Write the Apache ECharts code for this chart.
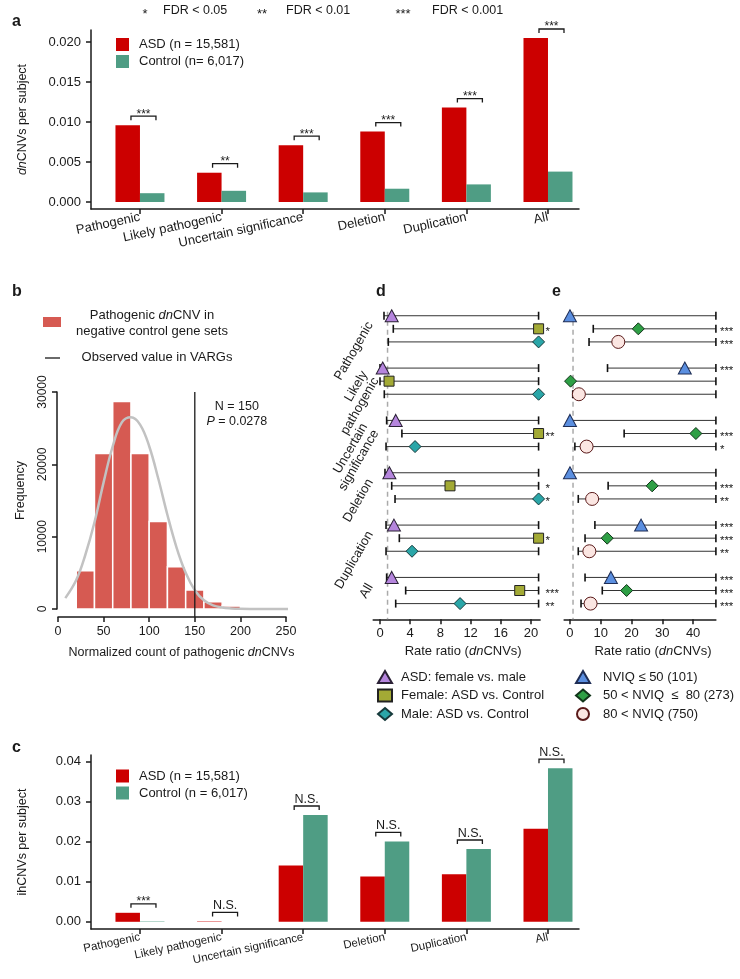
<!DOCTYPE html>
<html><head><meta charset="utf-8">
<script src="https://cdn.jsdelivr.net/npm/echarts@6/dist/echarts.min.js"></script>
<style>html,body{margin:0;padding:0;background:#fff}#c{width:740px;height:979px}</style>
</head><body><div id="c"></div>
<script>
// ---------- data ----------
const categories = ['Pathogenic', 'Likely pathogenic', 'Uncertain significance', 'Deletion', 'Duplication', 'All'];
const catIndex = [0, 1, 2, 3, 4, 5];
// panel a: dnCNVs per subject
const aASD = [0.0096, 0.00366, 0.0071, 0.0088, 0.0118, 0.0205];
const aControl = [0.0011, 0.0014, 0.0012, 0.00166, 0.0022, 0.0038];
const aSig = ['***', '**', '***', '***', '***', '***'];
const aTicks = [0, 0.005, 0.010, 0.015, 0.020];
// panel c: ihCNVs per subject
const cASD = [0.00225, 0.0001, 0.0141, 0.01135, 0.0119, 0.02325];
const cControl = [0.0001, 0, 0.0267, 0.0201, 0.0182, 0.0384];
const cSig = ['***', 'N.S.', 'N.S.', 'N.S.', 'N.S.', 'N.S.'];
const cTicks = [0, 0.01, 0.02, 0.03, 0.04];
// panel b: histogram
const histBinStart = [20, 40, 60, 80, 100, 120, 140, 160, 180];
const histBinWidth = 20;
const histFreq = [5300, 21500, 28700, 21500, 12100, 5850, 2630, 1010, 400];
const curveX = [8, 20, 30, 40, 50, 60, 70, 80, 90, 100, 110, 120, 130, 140, 150, 160, 170, 180, 190, 200, 220, 250, 284];
const curveY = [1500, 4000, 7500, 12000, 17500, 22500, 25800, 26500, 25500, 22500, 18000, 13000, 8500, 5000, 2600, 1200, 500, 200, 80, 30, 0, 0, 0];
const observedN = 150;
const observedP = '0.0278';
const bTicksX = [0, 50, 100, 150, 200, 250];
const bTicksY = [0, 10000, 20000, 30000];
// panels d, e: rate ratios
const groupLabels = ['Pathogenic', 'Likely\npathogenic', 'Uncertain\nsignificance', 'Deletion', 'Duplication', 'All'];
const nullRatio = 1;
const dTicks = [0, 4, 8, 12, 16, 20];
const eTicks = [0, 10, 20, 30, 40];
const dTriEst = [1.55, 0.36, 2.08, 1.24, 1.85, 1.55];
const dTriLo  = [0.53, 0.0, 0.88, 0.66, 0.8, 0.88];
const dTriHi  = [21, 21, 21, 21, 21, 21];
const dTriSig = ['', '', '', '', '', ''];
const dSqEst  = [21, 1.2, 21, 9.27, 21, 18.5];
const dSqLo   = [1.76, 0.0, 2.9, 1.55, 2.56, 3.4];
const dSqHi   = [21, 21, 21, 21, 21, 21];
const dSqSig  = ['*', '', '**', '*', '*', '***'];
const dDiaEst = [21, 21, 4.64, 21, 4.24, 10.6];
const dDiaLo  = [1.1, 0.57, 0.8, 1.99, 0.8, 2.08];
const dDiaHi  = [21, 21, 21, 21, 21, 21];
const dDiaSig = ['', '', '', '*', '', '**'];
const eTriEst = [0, 37.3, 0, 0, 23.1, 13.3];
const eTriLo  = [0, 12.2, 0, 0, 8.1, 4.9];
const eTriHi  = [47.4, 47.4, 47.4, 47.4, 47.4, 47.4];
const eTriSig = ['', '***', '', '', '***', '***'];
const eDiaEst = [22.2, 0.2, 40.9, 26.7, 12.1, 18.4];
const eDiaLo  = [7.57, 0, 17.6, 12.4, 4.9, 10.5];
const eDiaHi  = [47.4, 47.4, 47.4, 47.4, 47.4, 47.4];
const eDiaSig = ['***', '', '***', '***', '***', '***'];
const eCirEst = [15.7, 2.9, 5.4, 7.2, 6.3, 6.7];
const eCirLo  = [6.2, 0.9, 1.6, 2.7, 2.7, 3.6];
const eCirHi  = [47.4, 47.4, 47.4, 47.4, 47.4, 47.4];
const eCirSig = ['***', '', '*', '**', '**', '***'];

// ---------- style ----------
const FONT = '"Liberation Sans", Arial, Helvetica, sans-serif';
const INK = '#1a1a1a';
const RED = '#cc0000';
const GREEN = '#4f9d84';
const HIST = '#d65a52';
const GROUP_LABEL_POS = 0.55; // label anchor within each group of rows

const dDefs = [
  {name: 'ASD: female vs. male', est: dTriEst, lo: dTriLo, hi: dTriHi, sig: dTriSig, k: 0, symbol: 'triangle', size: [13, 12], color: '#b585dd', border: '#2a2035'},
  {name: 'Female: ASD vs. Control', est: dSqEst, lo: dSqLo, hi: dSqHi, sig: dSqSig, k: 1, symbol: 'rect', size: 10, color: '#a3aa35', border: '#222'},
  {name: 'Male: ASD vs. Control', est: dDiaEst, lo: dDiaLo, hi: dDiaHi, sig: dDiaSig, k: 2, symbol: 'diamond', size: [12, 12], color: '#2aa6a8', border: '#16393a'}
];
const eDefs = [
  {name: 'NVIQ ≤ 50 (101)', est: eTriEst, lo: eTriLo, hi: eTriHi, sig: eTriSig, k: 0, symbol: 'triangle', size: [13, 12], color: '#5b8fe0', border: '#1e2d55'},
  {name: '50 < NVIQ  ≤  80 (273)', est: eDiaEst, lo: eDiaLo, hi: eDiaHi, sig: eDiaSig, k: 1, symbol: 'diamond', size: [12, 12], color: '#2e9f45', border: '#12351a'},
  {name: '80 < NVIQ (750)', est: eCirEst, lo: eCirLo, hi: eCirHi, sig: eCirSig, k: 2, symbol: 'circle', size: 13, color: '#fbe6e2', border: '#5a1a1a'}
];

function catAxisX(gi, fontSize, rotate) {
  return {
    gridIndex: gi, type: 'value', min: -0.6, max: 5.38,
    axisLine: {onZero: false, lineStyle: {color: INK, width: 1.5}},
    axisTick: {customValues: catIndex, length: 5, lineStyle: {color: INK, width: 1.5}},
    axisLabel: {customValues: catIndex, formatter: v => categories[Math.round(v)], rotate: rotate,
      fontSize: fontSize, color: INK, margin: 8, fontFamily: FONT},
    splitLine: {show: false}
  };
}
function valAxisY(gi, min, max, ticks, fmt, name, rich) {
  return {
    gridIndex: gi, type: 'value', min: min, max: max,
    axisLine: {show: true, onZero: false, lineStyle: {color: INK, width: 1.5}},
    axisTick: {show: true, customValues: ticks, length: 5, lineStyle: {color: INK, width: 1.5}},
    axisLabel: {customValues: ticks, formatter: fmt, fontSize: 13, color: INK, margin: 10, fontFamily: FONT},
    splitLine: {show: false},
    name: name, nameLocation: 'middle', nameGap: 62,
    nameTextStyle: {fontSize: 12.5, color: INK, fontFamily: FONT, rich: rich}
  };
}
function bracketSeries(gi, asd, ctl, sig) {
  return {
    type: 'custom', xAxisIndex: gi, yAxisIndex: gi, silent: true, z: 4,
    data: catIndex.map(i => [i, Math.max(asd[i], ctl[i])]),
    renderItem(params, api) {
      const p = api.coord([api.value(0), api.value(1)]);
      const y = p[1] - 9, x1 = p[0] - 9, x2 = p[0] + 16;
      const s = sig[params.dataIndex];
      const stars = s.indexOf('*') >= 0;
      return {type: 'group', children: [
        {type: 'polyline', shape: {points: [[x1, y + 4], [x1, y], [x2, y], [x2, y + 4]]},
          style: {stroke: INK, lineWidth: 1.3, fill: null}},
        {type: 'text', style: {text: s, x: (x1 + x2) / 2, y: stars ? y + 4 : y, align: 'center', verticalAlign: 'bottom',
          fontSize: stars ? 12 : 12.5, fill: INK, fontFamily: FONT}}
      ]};
    }
  };
}
function errSeries(gi, def, sigGap) {
  return {
    type: 'custom', xAxisIndex: gi, yAxisIndex: gi, silent: true, z: 2,
    data: def.est.map((_, g) => [def.lo[g], def.hi[g], g * 4 + def.k]),
    renderItem(params, api) {
      const yv = api.value(2);
      const a = api.coord([api.value(0), yv]), b = api.coord([api.value(1), yv]);
      const s = def.sig[params.dataIndex];
      const ch = [
        {type: 'line', shape: {x1: a[0], y1: a[1], x2: b[0], y2: b[1]}, style: {stroke: '#333', lineWidth: 1}},
        {type: 'line', shape: {x1: a[0], y1: a[1] - 4, x2: a[0], y2: a[1] + 4}, style: {stroke: '#111', lineWidth: 1.6}},
        {type: 'line', shape: {x1: b[0], y1: b[1] - 4, x2: b[0], y2: b[1] + 4}, style: {stroke: '#111', lineWidth: 1.6}}
      ];
      if (s) ch.push({type: 'text', style: {text: s, x: b[0] + sigGap, y: b[1] + 3, align: 'left', verticalAlign: 'middle',
        fontSize: 11.5, fill: INK, fontFamily: FONT}});
      return {type: 'group', children: ch};
    }
  };
}
function pointSeries(gi, def) {
  return {
    type: 'scatter', name: def.name, xAxisIndex: gi, yAxisIndex: gi, z: 3, silent: true,
    symbol: def.symbol, symbolSize: def.size,
    data: def.est.map((v, g) => [v, g * 4 + def.k]),
    itemStyle: {color: def.color, borderColor: def.border, borderWidth: 1, opacity: 1}
  };
}
function rrAxisX(gi, min, max, ticks, shift) {
  return {
    gridIndex: gi, type: 'value', min: min, max: max,
    axisLine: {onZero: false, lineStyle: {color: INK, width: 1.5}},
    axisTick: {customValues: ticks, length: 5, lineStyle: {color: INK, width: 1.5}},
    axisLabel: {customValues: ticks, fontSize: 13, color: INK, margin: 8, fontFamily: FONT},
    splitLine: {show: false},
    name: 'Rate ratio ({i|dn}CNVs)', nameLocation: 'middle', nameGap: 26,
    nameTextStyle: {fontSize: 13, color: INK, fontFamily: FONT, padding: [0, 0, 0, shift],
      rich: {i: {fontStyle: 'italic', fontSize: 13, fontFamily: FONT, color: INK}}}
  };
}
function rrAxisY(gi, showLabels) {
  return {
    gridIndex: gi, type: 'value', inverse: true, min: -0.5, max: 23.2,
    axisLine: {show: false, onZero: false}, axisTick: {show: false}, splitLine: {show: false},
    axisLabel: showLabels ? {customValues: groupLabels.map((_, g) => g * 4 + GROUP_LABEL_POS),
      formatter: v => groupLabels[Math.round((v - GROUP_LABEL_POS) / 4)], rotate: 60, fontSize: 13, lineHeight: 13,
      margin: 3, color: INK, fontFamily: FONT} : {show: false}
  };
}
function nullLine(gi) {
  return {type: 'line', xAxisIndex: gi, yAxisIndex: gi, z: 1, silent: true, symbol: 'none',
    data: [[nullRatio, -0.3], [nullRatio, 23.2]], lineStyle: {type: [5, 4], color: '#aaaaaa', width: 1.5}};
}

const T = (text, x, y, extra) => Object.assign({type: 'text', x: x, y: y,
  style: Object.assign({text: text, fontSize: 12.5, fill: INK, fontFamily: FONT, align: 'left', verticalAlign: 'middle'}, extra || {})});

const option = {
  animation: false,
  backgroundColor: '#fff',
  textStyle: {fontFamily: FONT},
  grid: [
    {left: 91, top: 30, width: 488, height: 179},
    {left: 58, top: 392, width: 228, height: 217},
    {left: 91, top: 755, width: 488, height: 174},
    {left: 373.2, top: 309.2, width: 166.9, height: 310.1},
    {left: 564.1, top: 309.2, width: 151.8, height: 310.1}
  ],
  xAxis: [
    catAxisX(0, 13, 12),
    {gridIndex: 1, type: 'value', min: 0, max: 250, offset: 8,
      axisLine: {onZero: false, lineStyle: {color: INK, width: 1.5}},
      axisTick: {customValues: bTicksX, length: 5, lineStyle: {color: INK, width: 1.5}},
      axisLabel: {customValues: bTicksX, fontSize: 12.5, color: INK, margin: 8, fontFamily: FONT},
      splitLine: {show: false},
      name: 'Normalized count of pathogenic {i|dn}CNVs', nameLocation: 'middle', nameGap: 29,
      nameTextStyle: {fontSize: 12.5, color: INK, fontFamily: FONT, padding: [0, 0, 0, 19],
        rich: {i: {fontStyle: 'italic', fontSize: 12.5, fontFamily: FONT, color: INK}}}},
    catAxisX(2, 11.5, 12),
    rrAxisX(3, -0.9, 21.2, dTicks, 13),
    rrAxisX(4, -1.9, 47.4, eTicks, 26)
  ],
  yAxis: [
    valAxisY(0, -0.000875, 0.0215, aTicks, v => v.toFixed(3), '{i|dn}CNVs per subject',
      {i: {fontStyle: 'italic', fontSize: 12.5, fontFamily: FONT, color: INK}}),
    {gridIndex: 1, type: 'value', min: 0, max: 30000, offset: 1,
      axisLine: {show: true, onZero: false, lineStyle: {color: INK, width: 1.5}},
      axisTick: {show: true, customValues: bTicksY, length: 5, lineStyle: {color: INK, width: 1.5}},
      axisLabel: {customValues: bTicksY, formatter: v => String(Math.round(v)), rotate: 90, fontSize: 12, color: INK, margin: 8, fontFamily: FONT},
      splitLine: {show: false},
      name: 'Frequency', nameLocation: 'middle', nameGap: 30,
      nameTextStyle: {fontSize: 12.5, color: INK, fontFamily: FONT, padding: [0, 0, 0, 20]}},
    valAxisY(2, -0.0018, 0.0417, cTicks, v => v.toFixed(2), 'ihCNVs per subject', {}),
    rrAxisY(3, true),
    rrAxisY(4, false)
  ],
  legend: [
    {left: 116, top: 38, padding: 0, orient: 'vertical', itemWidth: 13, itemHeight: 13, itemGap: 4, icon: 'rect', selectedMode: false,
      data: ['ASD (n = 15,581)', 'Control (n= 6,017)'],
      textStyle: {fontSize: 13, color: INK, fontFamily: FONT, padding: [0, 0, 0, 5]}},
    {left: 116, top: 769.5, padding: 0, orient: 'vertical', itemWidth: 13, itemHeight: 13, itemGap: 4, icon: 'rect', selectedMode: false,
      data: ['ASD (n = 15,581)', 'Control (n = 6,017)'],
      textStyle: {fontSize: 13, color: INK, fontFamily: FONT, padding: [0, 0, 0, 5]}},
    {left: 377, top: 670, padding: 0, orient: 'vertical', itemWidth: 14, itemHeight: 12, itemGap: 4.5, selectedMode: false,
      data: dDefs.map(d => d.name),
      textStyle: {fontSize: 13, color: INK, fontFamily: FONT, padding: [0, 0, 0, 4]}},
    {left: 575, top: 670, padding: 0, orient: 'vertical', itemWidth: 14, itemHeight: 12, itemGap: 4.5, selectedMode: false,
      data: eDefs.map(d => d.name),
      textStyle: {fontSize: 13, color: INK, fontFamily: FONT, padding: [0, 0, 0, 8]}}
  ],
  series: [
    // panel a
    {type: 'bar', name: 'ASD (n = 15,581)', xAxisIndex: 0, yAxisIndex: 0, barWidth: 24.5, barGap: '0%', silent: true,
      data: catIndex.map(i => [i, aASD[i]]), itemStyle: {color: RED}},
    {type: 'bar', name: 'Control (n= 6,017)', xAxisIndex: 0, yAxisIndex: 0, barWidth: 24.5, barGap: '0%', silent: true,
      data: catIndex.map(i => [i, aControl[i]]), itemStyle: {color: GREEN}},
    bracketSeries(0, aASD, aControl, aSig),
    // panel c
    {type: 'bar', name: 'ASD (n = 15,581)', xAxisIndex: 2, yAxisIndex: 2, barWidth: 24.5, barGap: '0%', silent: true,
      data: catIndex.map(i => [i, cASD[i]]), itemStyle: {color: RED}},
    {type: 'bar', name: 'Control (n = 6,017)', xAxisIndex: 2, yAxisIndex: 2, barWidth: 24.5, barGap: '0%', silent: true,
      data: catIndex.map(i => [i, cControl[i]]), itemStyle: {color: GREEN}},
    bracketSeries(2, cASD, cControl, cSig),
    // panel b
    {type: 'custom', xAxisIndex: 1, yAxisIndex: 1, silent: true, z: 2,
      data: histBinStart.map((s, i) => [s, histFreq[i]]),
      renderItem(params, api) {
        const x0 = api.value(0), f = api.value(1);
        const p0 = api.coord([x0, f]), p1 = api.coord([x0 + histBinWidth, 0]);
        return {type: 'rect', shape: {x: p0[0], y: p0[1], width: p1[0] - p0[0], height: p1[1] - p0[1]},
          style: {fill: HIST, stroke: '#ffffff', lineWidth: 1.5}};
      }},
    {type: 'line', xAxisIndex: 1, yAxisIndex: 1, silent: true, z: 3, clip: false, symbol: 'none', smooth: 0.4,
      data: curveX.map((x, i) => [x, curveY[i]]), lineStyle: {color: '#c2c2c2', width: 2.5}},
    {type: 'custom', xAxisIndex: 1, yAxisIndex: 1, silent: true, z: 4, clip: false,
      data: [[observedN, 30000]],
      renderItem(params, api) {
        const top = api.coord([api.value(0), api.value(1)]);
        const bot = api.coord([api.value(0), 0]);
        return {type: 'group', children: [
          {type: 'line', shape: {x1: top[0], y1: top[1], x2: bot[0], y2: bot[1] + 8}, style: {stroke: INK, lineWidth: 1.3}},
          {type: 'text', style: {text: 'N = ' + observedN, x: top[0] + 42, y: top[1] + 15, align: 'center', verticalAlign: 'middle',
            fontSize: 12.5, fill: INK, fontFamily: FONT}},
          {type: 'text', style: {text: '{i|P} = ' + observedP, x: top[0] + 42, y: top[1] + 30, align: 'center', verticalAlign: 'middle',
            fontSize: 12.5, fill: INK, fontFamily: FONT, rich: {i: {fontStyle: 'italic', fontSize: 12.5, fontFamily: FONT, fill: INK}}}}
        ]};
      }},
    // panel d
    nullLine(3),
    ...dDefs.map(d => errSeries(3, d, 7)),
    ...dDefs.map(d => pointSeries(3, d)),
    // panel e
    nullLine(4),
    ...eDefs.map(d => errSeries(4, d, 4)),
    ...eDefs.map(d => pointSeries(4, d))
  ],
  graphic: [
    // significance key
    T('*', 145, 14, {align: 'center', fontSize: 13}),
    T('FDR < 0.05', 163, 11),
    T('**', 262, 14, {align: 'center', fontSize: 13}),
    T('FDR < 0.01', 286, 11),
    T('***', 403, 14, {align: 'center', fontSize: 13}),
    T('FDR < 0.001', 432, 11),
    // panel letters
    T('a', 12, 22, {fontSize: 16, fontWeight: 'bold'}),
    T('b', 12, 292, {fontSize: 16, fontWeight: 'bold'}),
    T('c', 12, 748, {fontSize: 16, fontWeight: 'bold'}),
    T('d', 376, 292, {fontSize: 16, fontWeight: 'bold'}),
    T('e', 552, 292, {fontSize: 16, fontWeight: 'bold'}),
    // panel b key
    {type: 'rect', shape: {x: 43, y: 317, width: 18, height: 10}, style: {fill: HIST}},
    T('Pathogenic {i|dn}CNV in', 152, 315, {align: 'center', fontSize: 13, rich: {i: {fontStyle: 'italic', fontSize: 13, fontFamily: FONT, fill: INK}}}),
    T('negative control gene sets', 152, 331, {align: 'center', fontSize: 13}),
    {type: 'line', shape: {x1: 45, y1: 358, x2: 60, y2: 358}, style: {stroke: INK, lineWidth: 1.3}},
    T('Observed value in VARGs', 157, 357, {align: 'center', fontSize: 13})
  ]
};
echarts.init(document.getElementById('c'), null, {renderer: 'canvas'}).setOption(option);
</script>
</body></html>
